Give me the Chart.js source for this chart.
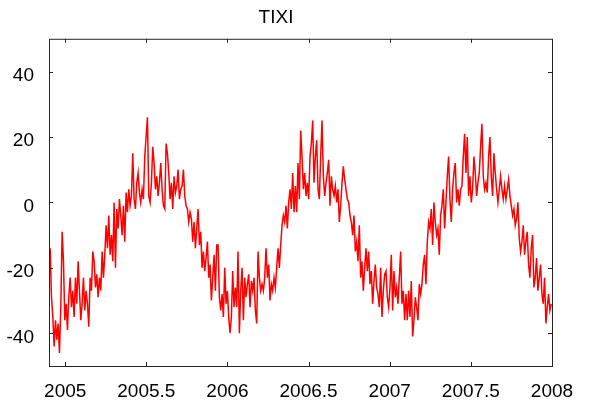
<!DOCTYPE html>
<html>
<head>
<meta charset="utf-8">
<script src="https://cdn.jsdelivr.net/npm/chart.js"></script>
<style>
  html, body { margin: 0; padding: 0; background: #fff; }
</style>
</head>
<body>
<canvas id="tixi" width="591" height="405"></canvas>
<script>
// Tixi daily temperature, every 3 days
const startYear = 2004.907;
const stepYears = 3 / 365.25;

const winter0405 = [-14,-29,-35,-44,-36,-42,-37,-46,-32,-9,-18,-36,-31,-39,-29,-23,-32,-27,-35,-23,
  -31,-18,-27,-36,-31,-23,-33,-27,-31,-38,-23,-27,-15,-18,-26,-22,-29,-23,-27,-15,
  -23,-16,-7,-14,-4,-16,-10,-18,0,-20,-2,-8,1,-4,-10,-1,-12,3,-3,4,-1,2,15];
const summer05 = [1,-2,6,9,3,0,4,1,14,20,26,2,0,6,17,12,4,8,2,6,
  12,4,-1,-2,18,15,9,1,6,-2,8,3,5,10,1,4,5,10,2,-1,
  -2,-6,-3,-5,-12,-6,-14,-8,-2,-13,-9,-20,-15,-21,-17,-12,-23,-19,-30,-23,-16,-27,-13];
const winter0506 = [-13,-29,-33,-28,-35,-20,-31,-27,-35,-40,-35,-21,-32,-26,-32,-15,-40,-27,-20,-36,
  -23,-29,-25,-22,-32,-24,-27,-23,-33,-37,-15,-23,-27,-25,-27,-23,-14,-23,-19,-30,
  -25,-27,-23,-26,-20,-14,-20,-13,-7,-4,-6,-1,-8,0,4,-2,9,-3,5,-3,12,1,22];
const summer06 = [14,4,9,2,6,1,14,18,25,6,14,19,4,1,14,25,8,2,6,9,
  13,-1,8,4,2,5,0,4,-6,-1,6,11,7,4,1,0,-4,-6,-10,-4,
  -15,-12,-18,-7,-23,-18,-27,-20,-14,-21,-15,-25,-21,-31,-24,-19,-26,-28,-32,-20,-35,-27,-22];
const winter0607 = [-21,-29,-32,-26,-16,-33,-21,-29,-26,-31,-23,-15,-31,-27,-36,-28,-36,-27,-35,-24,
  -41,-36,-29,-32,-36,-25,-28,-25,-19,-16,-25,-12,-6,-8,-2,-13,0,-6,-10,-8,
  -16,-4,-1,4,-8,0,8,14,1,-6,4,9,12,0,4,-1,4,5,14,21,9,20,2];
const summer07 = [8,0,4,14,9,2,6,9,17,24,8,4,6,3,14,20,8,2,15,9,
  4,0,4,8,4,1,5,1,4,7,2,-1,-4,-2,-7,-5,0,-11,-15,-12,
  -7,-16,-12,-9,-19,-23,-14,-10,-26,-23,-17,-27,-23,-19,-28,-31,-23,-37,-32,-28,-33,-31];

const xTicks = [2005, 2005.5, 2006, 2006.5, 2007, 2007.5, 2008];
const yTicks = [-40, -20, 0, 20, 40];

const temps = [].concat(winter0405, summer05, winter0506, summer06, winter0607, summer07);
const points = temps.map((t, i) => ({ x: startYear + i * stepYears, y: t }));

// box round the plot with small inward ticks on all four sides
const frameTicks = {
  id: 'frameTicks',
  afterDraw(chart) {
    const { ctx, chartArea: a, scales: { x, y } } = chart;
    ctx.save();
    ctx.strokeStyle = '#262626';
    ctx.lineWidth = 1;
    ctx.strokeRect(a.left + 0.5, a.top + 0.5, a.right - a.left, a.bottom - a.top);
    ctx.beginPath();
    xTicks.forEach(v => {
      const px = Math.round(x.getPixelForValue(v)) + 0.5;
      ctx.moveTo(px, a.bottom); ctx.lineTo(px, a.bottom - 4);
      ctx.moveTo(px, a.top); ctx.lineTo(px, a.top + 4);
    });
    yTicks.forEach(v => {
      const py = Math.round(y.getPixelForValue(v)) + 0.5;
      ctx.moveTo(a.left, py); ctx.lineTo(a.left + 4, py);
      ctx.moveTo(a.right, py); ctx.lineTo(a.right - 4, py);
    });
    ctx.stroke();
    ctx.restore();
  }
};

const font = { family: '"Liberation Sans", Arial, sans-serif', size: 19, weight: 'normal' };

new Chart(document.getElementById('tixi'), {
  type: 'line',
  data: {
    datasets: [{
      data: points,
      borderColor: '#ff0000',
      borderWidth: 1.5,
      pointRadius: 0,
      tension: 0,
      fill: false
    }]
  },
  options: {
    responsive: false,
    animation: false,
    layout: { padding: { left: 0, right: 39, top: 0, bottom: 0 } },
    plugins: {
      legend: { display: false },
      tooltip: { enabled: false },
      title: {
        display: true,
        text: 'TIXI',
        color: '#000',
        font: font,
        padding: { top: 6, bottom: 10 }
      }
    },
    scales: {
      x: {
        type: 'linear',
        min: 2004.9,
        max: 2008,
        grid: { display: false },
        border: { display: false },
        afterFit: s => { s.height = 39; },
        afterBuildTicks: s => { s.ticks = xTicks.map(v => ({ value: v })); },
        ticks: { color: '#000', font: font, padding: 6, maxRotation: 0, autoSkip: false,
          callback: v => String(v) }
      },
      y: {
        min: -50,
        max: 50,
        grid: { display: false },
        border: { display: false },
        afterFit: s => { s.width = 49; },
        afterBuildTicks: s => { s.ticks = yTicks.map(v => ({ value: v })); },
        ticks: { color: '#000', font: font, padding: 7, labelOffset: 4, callback: v => String(v) }
      }
    }
  },
  plugins: [frameTicks]
});
</script>
</body>
</html>
